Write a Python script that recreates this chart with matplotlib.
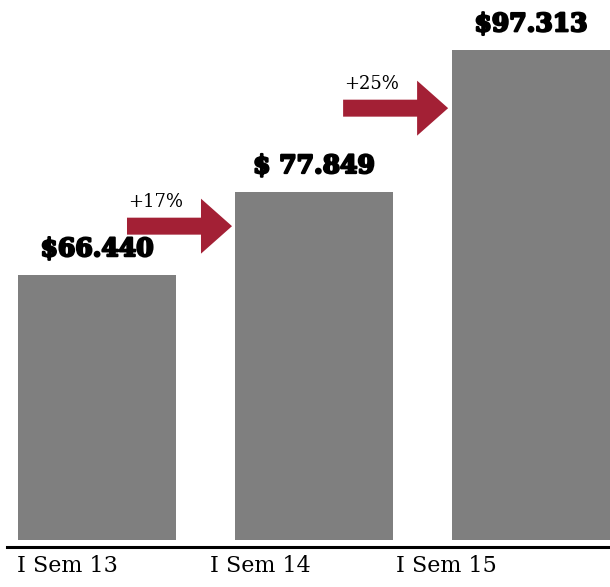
import matplotlib
matplotlib.use("Agg")
import matplotlib.pyplot as plt
import matplotlib.patheffects as pe
from matplotlib.patches import FancyArrow

# data
categories = ["I Sem 13", "I Sem 14", "I Sem 15"]
values = [66440, 77849, 97313]
value_labels = ["$66.440", "$ 77.849", "$97.313"]
growth_labels = ["+17%", "+25%"]

bar_color = "#7f7f7f"
arrow_color = "#a32035"
base = 30000

fig = plt.figure(figsize=(6.10, 5.87), dpi=100)
ax = fig.add_axes([7 / 610, 1 - 547 / 587, 603 / 610, 547 / 587])
ax.set_xlim(-0.415, 2.364)
ax.set_ylim(29100, 104200)

x = list(range(len(values)))
ax.bar(x, [v - base for v in values], bottom=base, width=0.725,
       color=bar_color, zorder=2)

# value labels above bars
for xi, v, lab in zip(x, values, value_labels):
    ax.annotate(lab, (xi, v), xytext=(0, 10), textcoords="offset points",
                ha="center", va="bottom", fontsize=18, fontweight="bold",
                family="DejaVu Serif",
                path_effects=[pe.withStroke(linewidth=1.6, foreground="black")])

# growth arrows between bars
arrow_start = [0.138, 1.134]
arrow_y = [73150, 89350]
for xs, ys, lab in zip(arrow_start, arrow_y, growth_labels):
    ax.add_patch(FancyArrow(xs, ys, 0.484, 0, width=2330, head_width=7550,
                            head_length=0.143, length_includes_head=True,
                            color=arrow_color, lw=0, zorder=3))
    ax.text(xs + 0.005, ys + 2330 / 2 + 900, lab, ha="left", va="bottom",
            fontsize=13, family="DejaVu Serif")

# category labels
label_x = [-0.138, 0.751, 1.608]
for lx, cat in zip(label_x, categories):
    ax.text(lx, -0.014, cat, transform=ax.get_xaxis_transform(),
            ha="center", va="top", fontsize=16, family="DejaVu Serif")

for s in ["top", "right", "left"]:
    ax.spines[s].set_visible(False)
ax.spines["bottom"].set_linewidth(2.2)
ax.set_xticks([])
ax.set_yticks([])

fig.savefig("out.png", dpi=100)
